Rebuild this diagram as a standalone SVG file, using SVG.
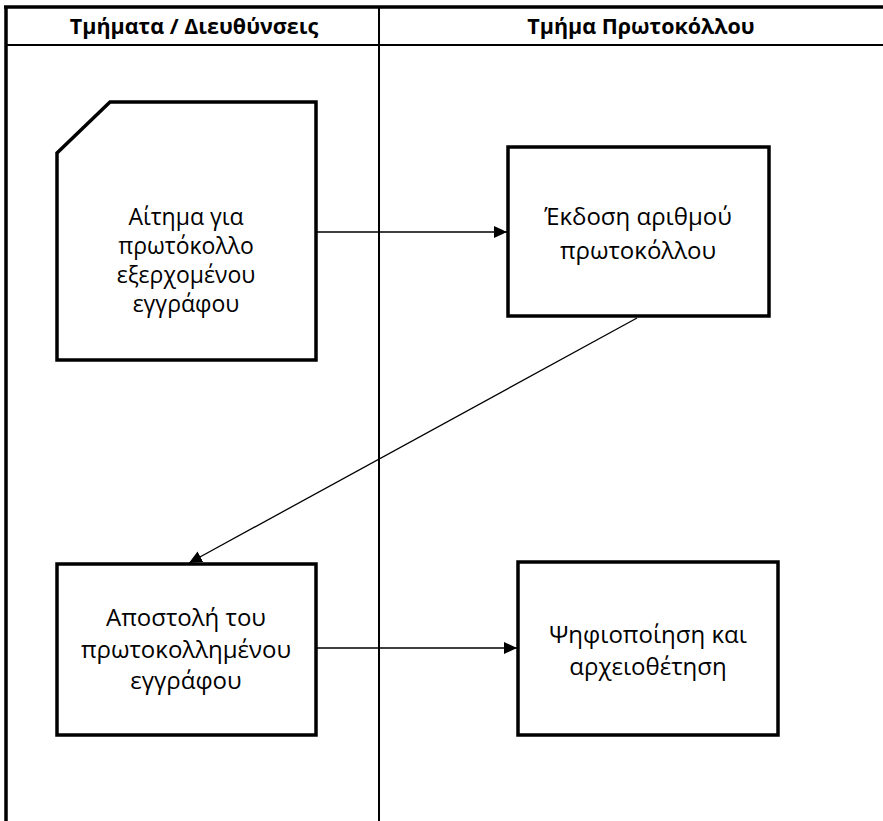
<svg xmlns="http://www.w3.org/2000/svg" width="883" height="821" viewBox="0 0 883 821">
<defs>
<style>
.lane{fill:none;stroke:#000;}
.node{fill:#fff;stroke:#000;stroke-width:3.5;}
.hdr{font-family:"Open Sans","Noto Sans",sans-serif;font-weight:bold;font-size:21.5px;text-anchor:middle;fill:#000;}
.lbl{font-family:"Open Sans","Noto Sans",sans-serif;font-size:24px;text-anchor:middle;fill:#000;}
.lbl-s{font-size:23px;}
.conn{fill:none;stroke:#000;stroke-width:1.3;}
</style>
<marker id="arr" markerWidth="14" markerHeight="12" refX="13" refY="6" orient="auto" markerUnits="userSpaceOnUse">
<path d="M0,0 L13,6 L0,12 Z" fill="#000"/>
</marker>
</defs>
<rect width="883" height="821" fill="#fff"/>
<g id="swimlanes">
<line class="lane" x1="6" y1="7" x2="6" y2="821" stroke-width="3.5"/>
<line class="lane" x1="4" y1="7" x2="883" y2="7" stroke-width="3.5"/>
<line class="lane" x1="6" y1="45" x2="883" y2="45" stroke-width="2"/>
<line class="lane" x1="379" y1="7" x2="379" y2="821" stroke-width="2"/>
<text class="hdr" x="194" y="34">Τμήματα / Διευθύνσεις</text>
<text class="hdr" x="641" y="34">Τμήμα Πρωτοκόλλου</text>
</g>
<g id="connectors">
<line class="conn" x1="316" y1="232" x2="507" y2="232" marker-end="url(#arr)"/>
<line class="conn" x1="637" y1="318" x2="189" y2="563" marker-end="url(#arr)"/>
<line class="conn" x1="316" y1="648" x2="517" y2="648" marker-end="url(#arr)"/>
</g>
<g id="node-request">
<path class="node" d="M57,153 L110,102 L316,102 L316,360 L57,360 Z"/>
<text class="lbl lbl-s" x="186" y="225">Αίτημα για</text>
<text class="lbl lbl-s" x="186" y="254">πρωτόκολλο</text>
<text class="lbl lbl-s" x="186" y="283">εξερχομένου</text>
<text class="lbl lbl-s" x="186" y="312">εγγράφου</text>
</g>
<g id="node-issue">
<rect class="node" x="508" y="147" width="261" height="169"/>
<text class="lbl" x="638" y="225">Έκδοση αριθμού</text>
<text class="lbl" x="638" y="259">πρωτοκόλλου</text>
</g>
<g id="node-send">
<rect class="node" x="57" y="564" width="259" height="171"/>
<text class="lbl" x="186" y="626">Αποστολή του</text>
<text class="lbl" x="186" y="658">πρωτοκολλημένου</text>
<text class="lbl" x="186" y="689">εγγράφου</text>
</g>
<g id="node-archive">
<rect class="node" x="518" y="562" width="260" height="173"/>
<text class="lbl" x="648" y="643">Ψηφιοποίηση και</text>
<text class="lbl" x="648" y="675">αρχειοθέτηση</text>
</g>
</svg>
